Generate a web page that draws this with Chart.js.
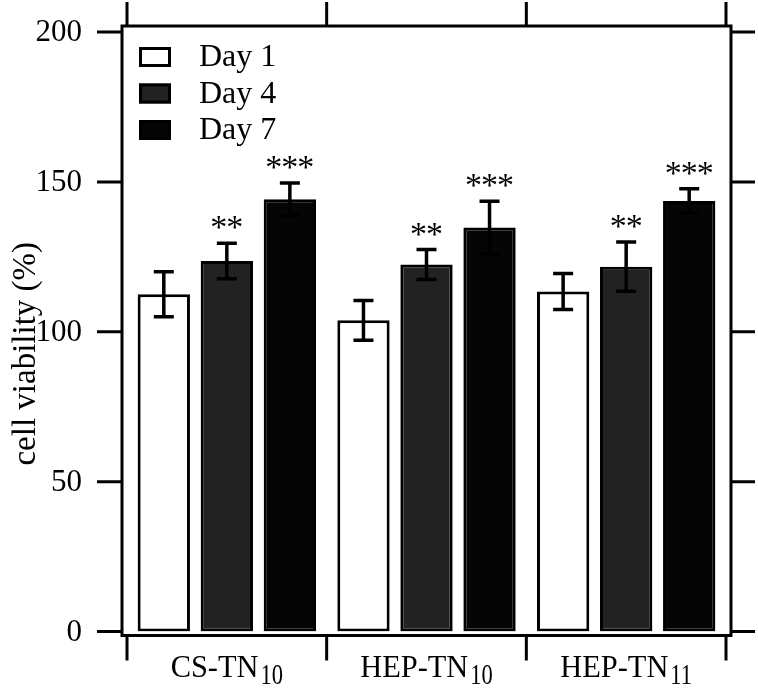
<!DOCTYPE html>
<html>
<head>
<meta charset="utf-8">
<script src="https://cdn.jsdelivr.net/npm/chart.js@4/dist/chart.umd.min.js"></script>
<style>
  html, body { margin: 0; padding: 0; background: #fff; }
  #wrap { width: 758px; height: 691px; }
</style>
</head>
<body>
<div id="wrap"><canvas id="chart" width="758" height="691"></canvas></div>
<script>
// categories (main text + subscript)
const categories = ['CS-TN', 'HEP-TN', 'HEP-TN'];
const categorySubs = ['10', '10', '11'];

// series values (cell viability %) and error bars
const day1 = [112.5, 103.8, 113.4];
const day1Err = [7.5, 6.6, 6.0];
const day4 = [123.6, 122.4, 121.7];
const day4Err = [5.9, 5.0, 8.2];
const day7 = [144.2, 134.8, 143.6];
const day7Err = [5.4, 8.7, 4.1];

// significance marks above bars
const day1Sig = ['', '', ''];
const day4Sig = ['**', '**', '**'];
const day7Sig = ['***', '***', '***'];

const yTicks = [0, 50, 100, 150, 200];
const yTitle = 'cell viability (%)';

const FONT = '"Liberation Serif", "Times New Roman", serif';

// draws the boxed frame, outward ticks, labels, legend, error bars and stars
const decorations = {
    id: 'decorations',
    afterDatasetsDraw(chart) {
        const ctx = chart.ctx;
        const x = chart.scales.x;
        const y = chart.scales.y;
        const ca = chart.chartArea;
        ctx.save();
        ctx.strokeStyle = '#000';
        ctx.fillStyle = '#000';

        // Error bars + stars
        chart.data.datasets.forEach((ds, di) => {
            const meta = chart.getDatasetMeta(di);
            meta.data.forEach((bar, i) => {
                const v = ds.data[i];
                const e = ds.errors[i];
                const top = y.getPixelForValue(v + e);
                const bot = y.getPixelForValue(v - e);
                ctx.lineWidth = 3.5;
                ctx.beginPath();
                ctx.moveTo(bar.x, top);
                ctx.lineTo(bar.x, bot);
                ctx.moveTo(bar.x - 10, top);
                ctx.lineTo(bar.x + 10, top);
                ctx.moveTo(bar.x - 10, bot);
                ctx.lineTo(bar.x + 10, bot);
                ctx.stroke();
                const s = ds.sig[i];
                if (s) {
                    ctx.font = '34px ' + FONT;
                    ctx.textAlign = 'center';
                    ctx.textBaseline = 'alphabetic';
                    const gap = 16;
                    for (let k = 0; k < s.length; k++) {
                        const sx = bar.x + (k - (s.length - 1) / 2) * gap;
                        ctx.fillText(s[k], sx, top - 5);
                    }
                }
            });
        });

        ctx.lineWidth = 3;
        // Frame
        const fl = ca.left - 5, fr = ca.right + 5, ft = ca.top - 6, fb = ca.bottom + 4;
        ctx.beginPath();
        ctx.rect(fl, ft, fr - fl, fb - ft);
        ctx.stroke();

        // Y ticks (left and right) + labels
        ctx.font = '31px ' + FONT;
        ctx.textAlign = 'right';
        ctx.textBaseline = 'middle';
        yTicks.forEach(t => {
            const py = y.getPixelForValue(t);
            ctx.beginPath();
            ctx.moveTo(fl - 25, py);
            ctx.lineTo(fl, py);
            ctx.moveTo(fr, py);
            ctx.lineTo(fr + 24, py);
            ctx.stroke();
            ctx.fillText(String(t), 82, py + 1);
        });

        // X category boundaries ticks (top and bottom)
        const step = x.getPixelForValue(1) - x.getPixelForValue(0);
        for (let i = 0; i <= categories.length; i++) {
            const px = x.getPixelForValue(0) - step / 2 + i * step;
            ctx.beginPath();
            ctx.moveTo(px, ft);
            ctx.lineTo(px, ft - 24);
            ctx.moveTo(px, fb);
            ctx.lineTo(px, fb + 25);
            ctx.stroke();
        }

        // X labels with subscripts
        ctx.textAlign = 'left';
        ctx.textBaseline = 'alphabetic';
        categories.forEach((c, i) => {
            const cx = x.getPixelForValue(i);
            ctx.font = '32px ' + FONT;
            const mw = ctx.measureText(c).width * 0.95;
            ctx.font = '30px ' + FONT;
            const sw = ctx.measureText(categorySubs[i]).width * 0.75;
            const sx = cx - (mw + sw + 2) / 2;
            ctx.save();
            ctx.translate(sx, 677);
            ctx.scale(0.95, 1);
            ctx.font = '32px ' + FONT;
            ctx.fillText(c, 0, 0);
            ctx.restore();
            ctx.save();
            ctx.translate(sx + mw + 2, 684);
            ctx.scale(0.75, 1);
            ctx.font = '30px ' + FONT;
            ctx.fillText(categorySubs[i], 0, 0);
            ctx.restore();
        });

        // Y title
        ctx.save();
        ctx.translate(26, (ca.top + ca.bottom) / 2 + 22);
        ctx.rotate(-Math.PI / 2);
        ctx.font = '33px ' + FONT;
        ctx.textAlign = 'center';
        ctx.textBaseline = 'middle';
        ctx.fillText(yTitle, 0, 0);
        ctx.restore();

        // Legend
        chart.data.datasets.forEach((ds, di) => {
            const cy = 57 + di * 36.5;
            ctx.fillStyle = ds.backgroundColor;
            ctx.fillRect(139, cy - 10, 32, 20);
            ctx.strokeRect(140.5, cy - 8.5, 29, 17);
            ctx.fillStyle = '#000';
            ctx.font = '32px ' + FONT;
            ctx.textAlign = 'left';
            ctx.textBaseline = 'middle';
            ctx.fillText(ds.label, 199, cy + 1);
        });

        ctx.restore();
    }
};

new Chart(document.getElementById('chart'), {
    type: 'bar',
    data: {
        labels: categories.map((c, i) => c + categorySubs[i]),
        datasets: [
            { label: 'Day 1', data: day1, errors: day1Err, sig: day1Sig, backgroundColor: '#ffffff' },
            { label: 'Day 4', data: day4, errors: day4Err, sig: day4Sig, backgroundColor: '#222222' },
            { label: 'Day 7', data: day7, errors: day7Err, sig: day7Sig, backgroundColor: '#050505' }
        ].map(d => Object.assign(d, {
            borderColor: '#000',
            borderWidth: 3,
            borderSkipped: false,
            barPercentage: 0.83,
            categoryPercentage: 0.947
        }))
    },
    options: {
        responsive: false,
        animation: false,
        layout: { padding: { left: 127, right: 32, top: 32, bottom: 59.5 } },
        plugins: { legend: { display: false }, tooltip: { enabled: false } },
        scales: {
            x: { display: false },
            y: { display: false, min: 0, max: 200 }
        }
    },
    plugins: [decorations]
});
</script>
</body>
</html>
